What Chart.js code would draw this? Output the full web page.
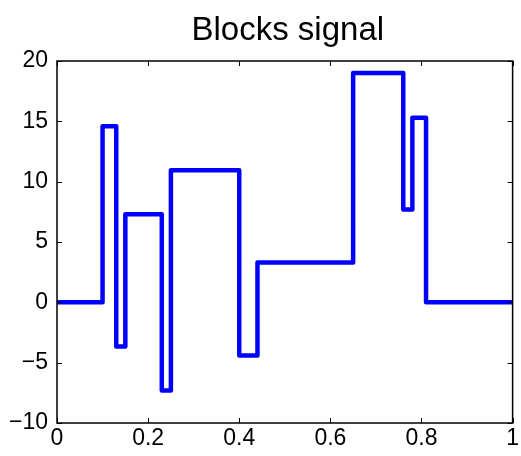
<!DOCTYPE html>
<html>
<head>
<meta charset="utf-8">
<script src="https://cdn.jsdelivr.net/npm/chart.js@4"></script>
<style>
  html, body { margin: 0; padding: 0; background: #fff; }
  #wrap { width: 521px; height: 456px; }
</style>
</head>
<body>
<div id="wrap"><canvas id="blocksChart"></canvas></div>
<script>
// Blocks signal: jump positions and level held after each jump
const jumpX = [0, 0.10, 0.13, 0.15, 0.23, 0.25, 0.40, 0.44, 0.65, 0.76, 0.78, 0.81, 1];
const levelY = [0, 14.6, -3.65, 7.3, -7.3, 10.95, -4.4, 3.3, 19, 7.7, 15.3, 0, 0];
const xTicks = [0, 0.2, 0.4, 0.6, 0.8, 1];
const yTicks = [-10, -5, 0, 5, 10, 15, 20];
const titleText = 'Blocks signal';

const FONT = "'Liberation Sans', Arial, Helvetica, sans-serif";

// MATLAB style box with inward ticks on all four sides, title centred over the axes
const boxTicks = {
    id: 'boxTicks',
    afterDraw(chart) {
        const { ctx, chartArea: a, scales } = chart;
        const len = 5;
        ctx.save();
        ctx.strokeStyle = '#000';
        ctx.lineWidth = 1;
        ctx.beginPath();
        xTicks.forEach(v => {
            const px = Math.round(scales.x.getPixelForValue(v)) + 0.5;
            ctx.moveTo(px, a.bottom); ctx.lineTo(px, a.bottom - len);
            ctx.moveTo(px, a.top); ctx.lineTo(px, a.top + len);
        });
        yTicks.forEach(v => {
            const py = Math.round(scales.y.getPixelForValue(v)) + 0.5;
            ctx.moveTo(a.left, py); ctx.lineTo(a.left + len, py);
            ctx.moveTo(a.right, py); ctx.lineTo(a.right - len, py);
        });
        ctx.stroke();
        ctx.lineWidth = 1.5;
        ctx.strokeRect(a.left, a.top, a.right - a.left, a.bottom - a.top);

        ctx.fillStyle = '#000';
        ctx.font = '33px ' + FONT;
        ctx.textAlign = 'center';
        ctx.textBaseline = 'alphabetic';
        ctx.fillText(titleText, (a.left + a.right) / 2 + 3, 40);
        ctx.restore();
    }
};

new Chart(document.getElementById('blocksChart').getContext('2d'), {
    type: 'line',
    data: {
        datasets: [{
            data: jumpX.map((x, i) => ({ x: x, y: levelY[i] })),
            stepped: 'before',
            borderColor: '#0000ff',
            borderWidth: 4.5,
            borderJoinStyle: 'round',
            pointRadius: 0,
            fill: false
        }]
    },
    options: {
        responsive: true,
        maintainAspectRatio: false,
        animation: false,
        layout: { padding: { left: 0, right: 4, top: 61, bottom: 0 } },
        plugins: {
            legend: { display: false },
            tooltip: { enabled: false },
            title: { display: false }
        },
        scales: {
            x: {
                type: 'linear',
                min: 0,
                max: 1,
                afterFit: s => { s.height = 33; },
                afterBuildTicks: s => { s.ticks = xTicks.map(v => ({ value: v })); },
                grid: { display: false, drawTicks: false },
                border: { display: false },
                ticks: {
                    color: '#000',
                    padding: 2,
                    maxRotation: 0,
                    autoSkip: false,
                    font: { family: FONT, size: 23 },
                    callback: v => String(v)
                }
            },
            y: {
                type: 'linear',
                min: -10,
                max: 20,
                afterFit: s => { s.width = 57; },
                afterBuildTicks: s => { s.ticks = yTicks.map(v => ({ value: v })); },
                grid: { display: false, drawTicks: false },
                border: { display: false },
                ticks: {
                    color: '#000',
                    padding: 9,
                    autoSkip: false,
                    font: { family: FONT, size: 23 },
                    callback: v => String(v).replace('-', '\u2212')
                }
            }
        }
    },
    plugins: [boxTicks]
});
</script>
</body>
</html>
